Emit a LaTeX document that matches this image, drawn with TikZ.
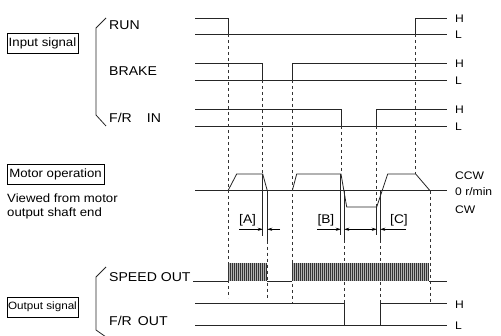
\documentclass[tikz,border=0pt]{standalone}
\usepackage{fontspec}
\setmainfont{Liberation Sans}[FakeStretch=1.1]
\usetikzlibrary{arrows.meta,positioning}
\tikzstyle{wave}=[line width=0.8pt, black!85]
\tikzstyle{guide}=[line width=0.7pt, black!80, dash pattern=on 3.5pt off 2.5pt]
\tikzstyle{dimline}=[line width=0.7pt, black!85]
\tikzstyle{arrow}=[-{Stealth[length=5pt,width=3.2pt]}, line width=0.6pt]
\tikzstyle{twoarrow}=[{Stealth[length=5pt,width=3.2pt]}-{Stealth[length=5pt,width=3.2pt]}, line width=0.6pt]
\tikzstyle{pulse}=[line width=0.5pt, black!80]
\tikzstyle{burst}=[fill=black!30]
\tikzstyle{tag}=[rectangle, draw=black, line width=0.6pt, minimum height=20pt,
  inner sep=1pt, font=\fontsize{12}{14}\selectfont]
\tikzstyle{signame}=[anchor=base west, inner sep=0pt, font=\fontsize{12.8}{15}\selectfont]
\tikzstyle{lvl}=[anchor=base west, inner sep=0pt, font=\fontsize{11}{13}\selectfont]
\tikzstyle{gap}=[anchor=base west, inner sep=0pt, font=\fontsize{12.5}{14}\selectfont]

\begin{document}
\begin{tikzpicture}[x=1pt,y=-1pt]
\useasboundingbox (0,0) rectangle (501,336);
\node (insig) [tag, minimum width=71pt] at (42.5,43) {Input signal};
\node (motorop) [tag, minimum width=97pt] at (55.5,174) {Motor operation};
\node (outsig) [tag, minimum width=71pt, font=\fontsize{10.6}{13}\selectfont] at (42.5,307) {Output signal};
\node (viewed) [anchor=north west, align=left, inner sep=0pt, font=\fontsize{12}{14}\selectfont]
  at (7,193.5) {Viewed from motor\\output shaft end};
\node (run) [signame] at (109,29.3) {RUN};
\node (brake) [signame] at (109,75.7) {BRAKE};
\node (frin) [signame] at (109,122.7) {F/R\hspace{15pt}IN};
\node (speedout) [signame] at (109,281.5) {SPEED OUT};
\node (frout) [signame] at (109,326) {F/R\hspace{6pt}OUT};
\foreach \nm/\y/\t in {hrun/22.3/H, lrun/38.3/L, hbrake/67.3/H, lbrake/84.3/L,
  hfrin/113.3/H, lfrin/130.3/L, ccw/179.3/CCW, zero/196/{0 r/min}, cw/213.3/CW,
  hfrout/308.3/H, lfrout/330/L}
  \node (\nm) [lvl] at (455,\y) {\t};
\node (tagA) [gap] at (239,224) {[A]};
\node (tagB) [gap] at (317.3,224) {[B]};
\node (tagC) [gap] at (390,224) {[C]};
\draw[wave] (106,18) -- (96,28) -- (96,115) -- (106,126);
\draw[wave] (106,267) -- (96,277) -- (96,330) -- (106,337);
\draw[wave] (195,34) -- (447,34);
\draw[wave] (195,18) -- (228,18) -- (228,34);
\draw[wave] (415.7,34) -- (415.7,18) -- (447,18);
\draw[wave] (195,80) -- (447,80);
\draw[wave] (195,63) -- (262.7,63) -- (262.7,80);
\draw[wave] (292.3,80) -- (292.3,63) -- (447,63);
\draw[wave] (195,126) -- (447,126);
\draw[wave] (195,109) -- (341,109) -- (341,126);
\draw[wave] (376.7,126) -- (376.7,109) -- (447,109);
\draw[wave] (195,190.7) -- (447,190.7);
\draw[wave] (228,190.7) -- (236.7,174) -- (262.7,174) -- (267.3,190.7);
\draw[wave] (292.3,190.7) -- (296.7,174) -- (341,174) -- (346.7,207) -- (376.7,207)
  -- (387.7,174) -- (415.7,174) -- (430,190.7);
\draw[dimline] (262.7,174) -- (262.7,236);
\draw[dimline] (267.3,190.7) -- (267.3,240.7);
\draw[dimline] (340.7,174) -- (340.7,235);
\draw[dimline] (344.3,190.7) -- (344.3,240);
\draw[dimline] (376.7,207) -- (376.7,235);
\draw[dimline] (380.3,190.7) -- (380.3,240);
\draw[arrow] (239,229.3) -- (262.7,229.3);
\draw[arrow] (280,229.3) -- (267.3,229.3);
\draw[arrow] (317.3,229.3) -- (340.7,229.3);
\draw[twoarrow] (344.3,229.3) -- (376.7,229.3);
\draw[arrow] (406,229.3) -- (380.3,229.3);
\draw[guide] (228,34) -- (228,298);
\draw[guide] (262.7,80) -- (262.7,174);
\draw[guide] (267.3,240.7) -- (267.3,298);
\draw[guide] (292.3,80) -- (292.3,303.3);
\draw[guide] (341,126) -- (341,174);
\draw[guide] (344.3,240) -- (344.3,303.3);
\draw[guide] (376.7,126) -- (376.7,207);
\draw[guide] (380.3,240) -- (380.3,303.3);
\draw[guide] (415.7,34) -- (415.7,174);
\draw[guide] (430,190.7) -- (430,303.3);
\draw[wave] (193,281) -- (228,281);
\draw[wave] (267.3,281) -- (292.3,281);
\draw[wave] (429.3,281) -- (447,281);
\fill[burst] (228,263) rectangle (267.3,281);
\fill[burst] (292.3,263) rectangle (429.3,281);
\foreach \x in {228.5,230.5,...,267}
  \draw[pulse] (\x,263) -- (\x,281);
\foreach \x in {292.5,294.5,...,429.5}
  \draw[pulse] (\x,263) -- (\x,281);
\draw[wave] (195,325.7) -- (447,325.7);
\draw[wave] (195,303.3) -- (344.3,303.3) -- (344.3,325.7);
\draw[wave] (380.3,325.7) -- (380.3,303.3) -- (447,303.3);
\end{tikzpicture}
\end{document}
